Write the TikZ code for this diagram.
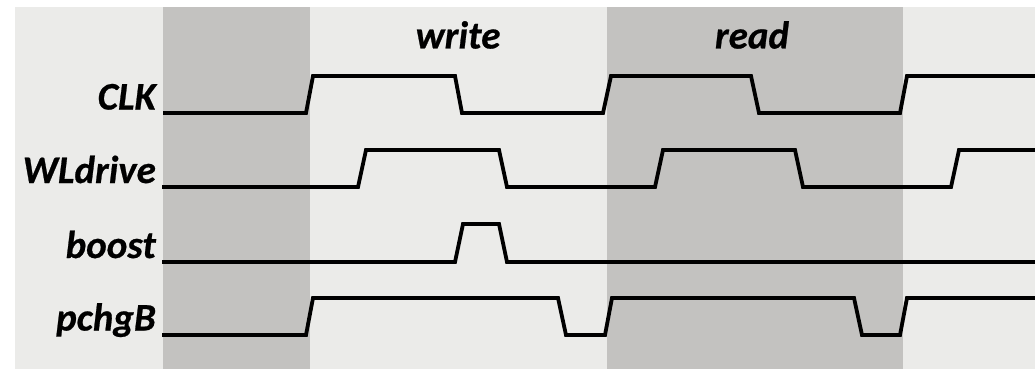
\documentclass[tikz,border=0pt]{standalone}
\usepackage{fontspec}
\setmainfont{Carlito}
\newfontface\heavyitalic{Carlito Bold Italic}[FakeBold=0.6]
\definecolor{paneLight}{RGB}{235,235,233}
\definecolor{paneDark}{RGB}{195,194,192}
\begin{document}
\begin{tikzpicture}[x=1pt,y=-1pt,
  signal/.style={line width=3.8pt,black,line join=miter},
  siglabel/.style={anchor=base east,inner sep=0pt,font=\fontsize{39}{42}\heavyitalic},
  phase/.style={anchor=base,inner sep=0pt,font=\fontsize{39}{42}\heavyitalic}]
\useasboundingbox (0,0) rectangle (1035,369);
% panel and shaded cycles
\fill[paneLight] (15,7) rectangle (1035,369);
\fill[paneDark] (163,7) rectangle (310,369);
\fill[paneDark] (607,7) rectangle (903,369);
% phase titles
\node[phase] (wr) at (458,48.5) {write};
\node[phase] (rd) at (752,48.5) {read};
% signal names
\node[siglabel] (clk)   at (156,109.5) {CLK};
\node[siglabel] (wl)    at (156,183) {WLdrive};
\node[siglabel] (bst)   at (156,258) {boost};
\node[siglabel] (pchg)  at (156,330.5) {pchgB};
% waveforms
\draw[signal] (163,113) -- (306,113) -- (313,76) -- (455,76) -- (462,113)
  -- (603,113) -- (611,76) -- (751,76) -- (759,113) -- (900,113) -- (907,76) -- (1035,76);
\draw[signal] (162,187) -- (358,187) -- (366,150) -- (499,150) -- (507,187)
  -- (655,187) -- (663,150) -- (795,150) -- (803,187) -- (951,187) -- (959,150) -- (1035,150);
\draw[signal] (162,262) -- (455,262) -- (463,224) -- (499,224) -- (507,262) -- (1035,262);
\draw[signal] (162,335) -- (306,335) -- (313,298) -- (558,298) -- (566,335)
  -- (605,335) -- (612,298) -- (854,298) -- (862,335) -- (900,335) -- (907,298) -- (1035,298);
\end{tikzpicture}
\end{document}
